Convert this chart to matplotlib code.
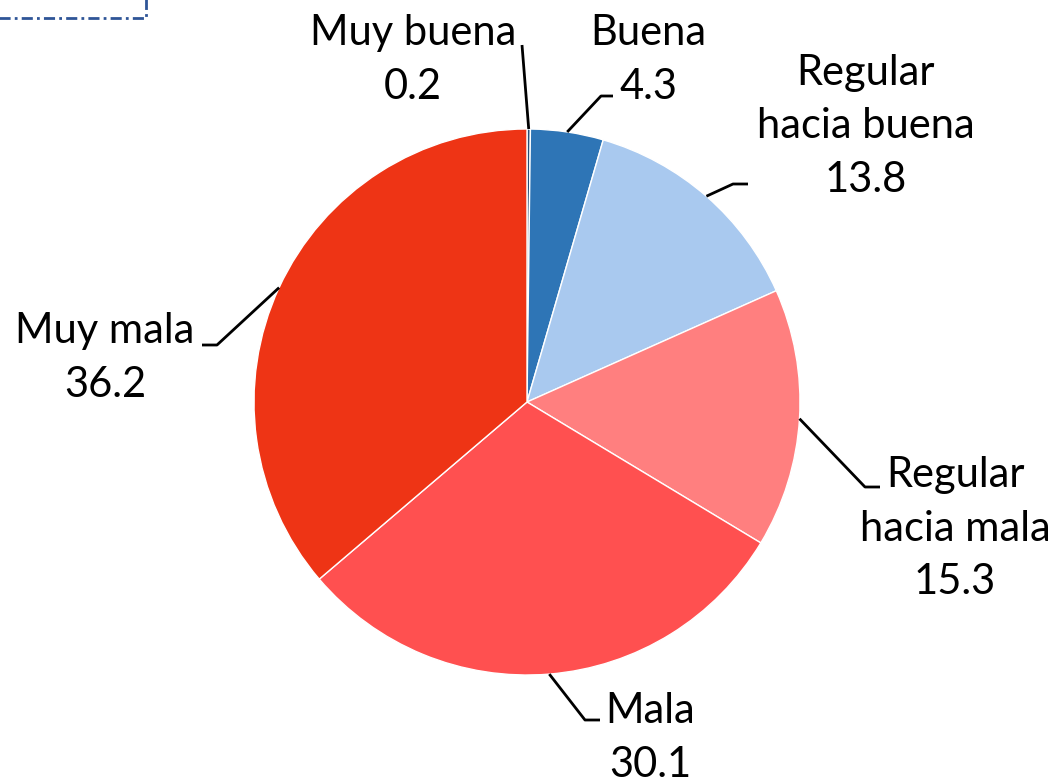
import numpy as np
import matplotlib.pyplot as plt
from matplotlib.patches import Rectangle

# --- Daten ---
labels = ["Muy buena", "Buena", "Regular\nhacia buena", "Regular\nhacia mala", "Mala", "Muy mala"]
values = [0.2, 4.3, 13.8, 15.3, 30.1, 36.2]
colors = ["#24507A", "#2E75B6", "#A9C9EF", "#FF7F7F", "#FF5050", "#EE3415"]

# Layout (Pixel, y nach unten)
W, H = 1055, 782
CX, CY, R = 527, 402, 273
text_pos = [(413, 60), (648, 60), (866, 126), (955, 529), (650, 738), (105, 358)]
elbows = [None, (601, 96), (733, 184), (865, 487), (585, 720), (217, 345)]
ends = [(522, 45), (613, 96), (748, 184), (880, 487), (600, 720), (202, 345)]

plt.rcParams['font.family'] = ['Lato', 'DejaVu Sans']

fig = plt.figure(figsize=(W / 100, H / 100), dpi=100)
ax = fig.add_axes([0, 0, 1, 1])

wedges, _ = ax.pie(values, colors=colors, startangle=90, counterclock=False,
                   center=(CX, H - CY), radius=R,
                   wedgeprops=dict(edgecolor='white', linewidth=1))
ax.set_xlim(0, W)
ax.set_ylim(0, H)
ax.set_aspect('equal')
ax.axis('off')

total = sum(values)
cum = 0
for i, v in enumerate(values):
    mid = (cum + v / 2) / total * 360
    cum += v
    px = CX + R * np.sin(np.radians(mid))
    py = CY - R * np.cos(np.radians(mid))
    pts = [(px, py)]
    if elbows[i] is not None:
        pts.append(elbows[i])
    pts.append(ends[i])
    xs = [p[0] for p in pts]
    ys = [H - p[1] for p in pts]
    ax.plot(xs, ys, color='black', linewidth=2, solid_capstyle='butt')
    tx, ty = text_pos[i]
    ax.text(tx, H - ty, f"{labels[i]}\n{v}", ha='center', va='center',
            multialignment='center', fontsize=30, linespacing=1.5)

# gestrichelter Rahmen oben links
rect = Rectangle((-10, H - 18), 156, 40, fill=False, edgecolor='#2F5597',
                 linewidth=2, linestyle=(0, (4, 1.5, 1, 1.5)), clip_on=False)
ax.add_patch(rect)

fig.savefig("out.png", dpi=100)
